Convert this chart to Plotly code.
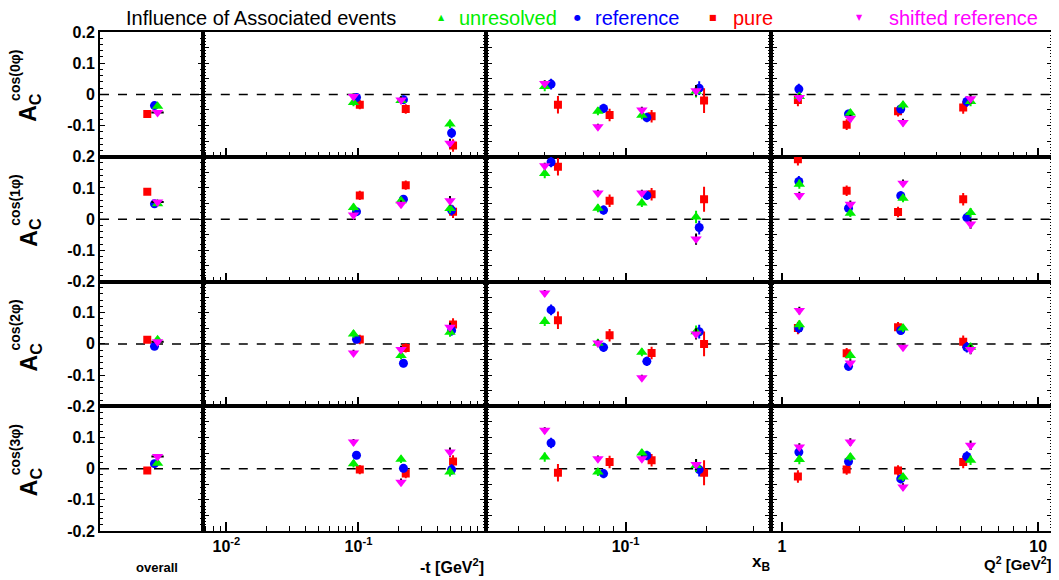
import plotly.graph_objects as go

# ---------------- data ----------------
moments = ["cos(0φ)", "cos(1φ)", "cos(2φ)", "cos(3φ)"]

# x positions of bins (per series)
overall_x = {"unresolved": 0.56, "reference": 0.53, "pure": 0.46, "shifted reference": 0.56}
t_x = {
    "unresolved": [0.0917, 0.210, 0.493],
    "reference": [0.0966, 0.219, 0.507],
    "pure": [0.1023, 0.228, 0.520],
    "shifted reference": [0.0917, 0.210, 0.493],
}
xb_x = {
    "unresolved": [0.050, 0.0789, 0.115, 0.183],
    "reference": [0.0528, 0.0828, 0.120, 0.188],
    "pure": [0.056, 0.0872, 0.125, 0.196],
    "shifted reference": [0.050, 0.0789, 0.115, 0.183],
}
q2_x = {
    "unresolved": [1.17, 1.85, 2.97, 5.45],
    "reference": [1.165, 1.82, 2.91, 5.27],
    "pure": [1.155, 1.79, 2.84, 5.10],
    "shifted reference": [1.17, 1.85, 2.97, 5.45],
}

# values: [overall, -t (3 bins), xB (4 bins), Q2 (4 bins)]
unresolved_vals = [
    [-0.038, -0.026, -0.020, -0.095, 0.025, -0.054, -0.067, 0.010, -0.007, -0.060, -0.034, -0.023],
    [0.049, 0.037, 0.059, 0.034, 0.146, 0.035, 0.052, 0.007, 0.112, 0.019, 0.067, 0.021],
    [0.013, 0.032, -0.037, 0.037, 0.072, 0.002, -0.027, 0.039, 0.061, -0.037, 0.051, -0.011],
    [0.017, 0.016, 0.030, -0.011, 0.037, -0.011, 0.050, 0.010, 0.029, 0.037, -0.027, 0.027],
]
reference_vals = [
    [-0.036, -0.010, -0.017, -0.124, 0.033, -0.045, -0.074, 0.020, 0.017, -0.063, -0.047, -0.023],
    [0.049, 0.024, 0.064, 0.029, 0.183, 0.029, 0.076, -0.027, 0.121, 0.035, 0.075, 0.005],
    [-0.008, 0.015, -0.062, 0.043, 0.109, -0.011, -0.056, 0.039, 0.051, -0.072, 0.043, -0.011],
    [0.016, 0.043, 0.001, -0.003, 0.082, -0.016, 0.042, -0.003, 0.053, 0.023, -0.033, 0.039],
]
pure_vals = [
    [-0.063, -0.033, -0.047, -0.164, -0.033, -0.066, -0.070, -0.020, -0.018, -0.097, -0.054, -0.042],
    [0.088, 0.076, 0.109, 0.024, 0.168, 0.059, 0.080, 0.064, 0.192, 0.091, 0.023, 0.064],
    [0.013, 0.014, -0.013, 0.062, 0.076, 0.028, -0.029, 0.000, 0.051, -0.030, 0.053, 0.007],
    [-0.006, -0.003, -0.016, 0.023, -0.013, 0.021, 0.027, -0.013, -0.025, -0.003, -0.006, 0.021],
]
shifted_vals = [
    [-0.058, -0.007, -0.018, -0.157, 0.035, -0.104, -0.050, 0.012, -0.010, -0.077, -0.090, -0.014],
    [0.055, 0.013, 0.048, 0.059, 0.171, 0.084, 0.084, -0.064, 0.076, 0.048, 0.115, -0.016],
    [0.007, -0.029, -0.018, 0.053, 0.163, 0.003, -0.109, 0.032, 0.107, -0.061, -0.011, -0.018],
    [0.039, 0.085, -0.044, 0.053, 0.123, 0.032, 0.032, 0.013, 0.069, 0.085, -0.059, 0.075],
]

# errors: [overall, -t (3), xB (4), Q2 (4)]
unresolved_err = [0.005, 0.012, 0.012, 0.014, 0.015, 0.013, 0.013, 0.020, 0.015, 0.012, 0.013, 0.015]
reference_err = [0.005, 0.012, 0.013, 0.017, 0.017, 0.015, 0.015, 0.022, 0.017, 0.014, 0.014, 0.017]
pure_err = [0.006, 0.015, 0.015, 0.020, 0.028, 0.020, 0.020, 0.040, 0.020, 0.017, 0.017, 0.020]
shifted_err = [0.004, 0.010, 0.012, 0.015, 0.010, 0.010, 0.010, 0.018, 0.012, 0.012, 0.012, 0.015]
shifted_overall_xerr = 0.06

series = [
    # name, values, errors, color, errcolor, symbol, size
    ("pure", pure_vals, pure_err, "#ff0000", "#ff0000", "square", 8),
    ("reference", reference_vals, reference_err, "#0000ff", "#0000ff", "circle", 9),
    ("unresolved", unresolved_vals, unresolved_err, "#00ee00", "#00ee00", "triangle-up", 10),
    ("shifted reference", shifted_vals, shifted_err, "#ff00ff", "#000000", "triangle-down", 10),
]

# ---------------- layout geometry ----------------
OFF = 8  # page body margin offset
W, H = 1059 - OFF, 580 - OFF
L, R, T, B = 100, 1055, 32, 531  # plot area in window pixels
col_px = [100, 203, 487, 772, 1055]
col_dom = [[(col_px[i] - L) / (R - L), (col_px[i + 1] - L) / (R - L)] for i in range(4)]
row_dom = [[0.75, 1.0], [0.5, 0.75], [0.25, 0.5], [0.0, 0.25]]


def px(x):
    return (x - L) / (R - L)


def py(y):
    return (B - y) / (B - T)


FONT = "Liberation Sans, Arial, sans-serif"
LW = 2

fig = go.Figure()

col_slices = [slice(0, 1), slice(1, 4), slice(4, 8), slice(8, 12)]
col_x = [overall_x, t_x, xb_x, q2_x]

for r in range(4):
    for c in range(4):
        k = r * 4 + c + 1
        xa = "x" if k == 1 else f"x{k}"
        ya = "y" if k == 1 else f"y{k}"
        for name, vals, errs, color, ecolor, sym, size in series:
            yv = vals[r][col_slices[c]]
            ev = errs[col_slices[c]]
            if c == 0:
                xv = [col_x[0][name]]
            else:
                xv = col_x[c][name]
            tr = dict(
                x=xv, y=yv, mode="markers", xaxis=xa, yaxis=ya, showlegend=False, name=name,
                marker=dict(symbol=sym, size=size, color=color, line=dict(width=0)),
                error_y=dict(type="data", array=ev, color=ecolor, thickness=2, width=0),
            )
            if c == 0 and name == "shifted reference":
                tr["error_x"] = dict(type="data", array=[shifted_overall_xerr], color="#000000",
                                     thickness=2, width=0)
            fig.add_trace(go.Scatter(**tr))
        # dashed zero line
        fig.add_shape(type="line", xref=f"{xa} domain", yref=ya, x0=0, x1=1, y0=0, y1=0,
                      line=dict(color="black", width=1.5, dash="dash"), layer="below")

layout = {}
log_ranges = [None, [-2.179, -0.033], [-1.519, -0.46], [-0.044, 1.058]]
major_x = [None, [0.01, 0.1], [0.1], [1, 10]]
major_txt = [None, ["10<sup>-2</sup>", "10<sup>-1</sup>"], ["10<sup>-1</sup>"], ["1", "10"]]
minor_x = [
    None,
    [0.007, 0.008, 0.009, 0.02, 0.03, 0.04, 0.05, 0.06, 0.07, 0.08, 0.09, 0.2, 0.3, 0.4, 0.5, 0.6, 0.7, 0.8, 0.9],
    [0.04, 0.05, 0.06, 0.07, 0.08, 0.09, 0.2, 0.3],
    [2, 3, 4, 5, 6, 7, 8, 9],
]
ytick_major = [-0.2, -0.15, -0.1, -0.05, 0, 0.05, 0.1, 0.15, 0.2]
row_ylabels = [
    [-0.1, 0, 0.1, 0.2],
    [-0.2, -0.1, 0, 0.1, 0.2],
    [-0.2, -0.1, 0, 0.1],
    [-0.2, -0.1, 0, 0.1],
]

for r in range(4):
    for c in range(4):
        k = r * 4 + c + 1
        xkey = "xaxis" if k == 1 else f"xaxis{k}"
        ykey = "yaxis" if k == 1 else f"yaxis{k}"
        ya = "y" if k == 1 else f"y{k}"
        xa = "x" if k == 1 else f"x{k}"
        xd = dict(domain=col_dom[c], anchor=ya, showline=True, linewidth=LW, linecolor="black",
                  mirror=True, showgrid=False, zeroline=False,
                  tickfont=dict(family=FONT, size=16, color="black", weight="bold"))
        if c == 0:
            xd.update(range=[0, 1], showticklabels=False, ticks="")
        else:
            xd.update(type="log", range=log_ranges[c], tickmode="array", tickvals=major_x[c],
                      ticktext=major_txt[c], showticklabels=(r == 3),
                      ticks="inside", ticklen=9, tickwidth=1.5, tickcolor="black",
                      minor=dict(tickmode="array", tickvals=minor_x[c], ticks="inside", ticklen=5,
                                 tickwidth=1.2, tickcolor="black", showgrid=False))
        layout[xkey] = xd

        yd = dict(domain=row_dom[r], anchor=xa, range=[-0.2, 0.2], showline=True, linewidth=LW,
                  linecolor="black", mirror="ticks", showgrid=False, zeroline=False,
                  ticks="inside", tickwidth=1.2, tickcolor="black",
                  tickfont=dict(family=FONT, size=16, color="black", weight="bold"))
        if c == 0:
            vals_lab = row_ylabels[r]
            yd.update(tickmode="array", tickvals=vals_lab,
                      ticktext=[("0" if v == 0 else f"{v:g}") for v in vals_lab],
                      showticklabels=True, ticklen=5,
                      minor=dict(dtick=0.02, tick0=0, ticks="inside", ticklen=3, tickwidth=1,
                                 tickcolor="black", showgrid=False))
        else:
            yd.update(tickmode="array", tickvals=ytick_major, showticklabels=False, ticklen=6,
                      minor=dict(dtick=0.01, tick0=0, ticks="inside", ticklen=3, tickwidth=1,
                                 tickcolor="black", showgrid=False))
        layout[ykey] = yd

annotations = []
# axis titles
annotations.append(dict(x=px(487), y=py(566), xref="paper", yref="paper", xanchor="right", yanchor="middle",
                        text="-t [GeV<sup>2</sup>]", showarrow=False,
                        font=dict(family=FONT, size=16, color="black", weight="bold")))
annotations.append(dict(x=px(773), y=py(563), xref="paper", yref="paper", xanchor="right", yanchor="middle",
                        text="x<sub>B</sub>", showarrow=False,
                        font=dict(family=FONT, size=17, color="black", weight="bold")))
annotations.append(dict(x=px(1056), y=py(563), xref="paper", yref="paper", xanchor="right", yanchor="middle",
                        text="Q<sup>2</sup> [GeV<sup>2</sup>]", showarrow=False,
                        font=dict(family=FONT, size=15, color="black", weight="bold")))
annotations.append(dict(x=px(157), y=py(567), xref="paper", yref="paper", xanchor="center", yanchor="middle",
                        text="overall", showarrow=False,
                        font=dict(family=FONT, size=13, color="black", weight="bold")))

# y titles
for r in range(4):
    zero = 93.7 + 124.8 * r
    annotations.append(dict(x=px(30), y=py(zero + 14), xref="paper", yref="paper", xanchor="center",
                            yanchor="middle", textangle=-90, text="A<sub>C</sub>", showarrow=False,
                            font=dict(family=FONT, size=23, color="black", weight="bold")))
    annotations.append(dict(x=px(15), y=py(zero - 18), xref="paper", yref="paper", xanchor="center",
                            yanchor="middle", textangle=-90, text=moments[r], showarrow=False,
                            font=dict(family=FONT, size=14, color="black", weight="bold")))

# legend (top row)
annotations.append(dict(x=px(124), y=py(18), xref="paper", yref="paper", xanchor="left", yanchor="middle",
                        text="Influence of Associated events", showarrow=False,
                        font=dict(family=FONT, size=20, color="black")))
legend_items = [
    ("▲", "unresolved", "#00ee00", 442, 458),
    ("●", "reference", "#0000ff", 579, 594),
    ("■", "pure", "#ff0000", 714, 732),
    ("▼", "shifted reference", "#ff00ff", 861, 889),
]
for sym, label, color, mx, tx in legend_items:
    annotations.append(dict(x=px(mx), y=py(18), xref="paper", yref="paper", xanchor="center",
                            yanchor="middle", text=sym, showarrow=False,
                            font=dict(family="DejaVu Sans", size=8, color=color)))
    annotations.append(dict(x=px(tx), y=py(18), xref="paper", yref="paper", xanchor="left",
                            yanchor="middle", text=label, showarrow=False,
                            font=dict(family=FONT, size=20, color=color)))

fig.update_layout(
    width=W, height=H,
    margin=dict(l=L - OFF, r=W - (R - OFF), t=T - OFF, b=H - (B - OFF), pad=0),
    paper_bgcolor="white", plot_bgcolor="white",
    annotations=annotations,
    showlegend=False,
    **layout,
)

fig.write_html("out.html")
